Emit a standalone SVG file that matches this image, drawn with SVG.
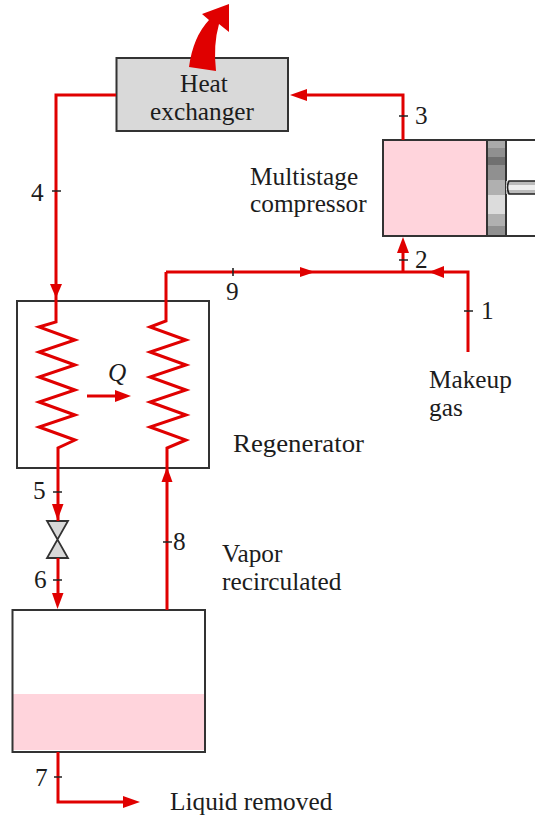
<svg xmlns="http://www.w3.org/2000/svg" width="535" height="816" viewBox="0 0 535 816">
<style>
text{font-family:"Liberation Serif","Times New Roman",serif;font-size:25.300px;fill:#1c1c1c}
.m{text-anchor:middle}
.box{fill:none;stroke:#333;stroke-width:2}
.pipe{fill:none;stroke:#e00000;stroke-width:3;stroke-linejoin:miter}
.tick{fill:none;stroke:#222;stroke-width:1.6}
.head{fill:#e00000}
</style>
<rect width="535" height="816" fill="#fff"/>
<g id="heat-exchanger">
<rect x="116.500" y="58" width="171.500" height="73" fill="#d9d9d9" stroke="#333" stroke-width="2"/>
<text class="m" x="204" y="92">Heat</text>
<text class="m" x="202" y="120">exchanger</text>
</g>
<g id="compressor">
<rect x="383" y="140" width="104" height="95" fill="#ffd4dc"/>
<rect x="487" y="141" width="19" height="7" fill="#aaa"/>
<rect x="487" y="148" width="19" height="9" fill="#909090"/>
<rect x="487" y="157" width="19" height="8" fill="#707070"/>
<rect x="487" y="165" width="19" height="15" fill="#909090"/>
<rect x="487" y="180" width="19" height="15" fill="#b0b0b0"/>
<rect x="487" y="195" width="19" height="19" fill="#dcdcdc"/>
<rect x="487" y="214" width="19" height="12" fill="#b0b0b0"/>
<rect x="487" y="226" width="19" height="10" fill="#909090"/>
<path d="M535 140H383V236H535M487 140V236M506 140V236" class="box"/>
<rect x="506" y="181" width="29" height="4" fill="#bbb"/>
<rect x="506" y="185" width="29" height="5" fill="#eee"/>
<rect x="506" y="190" width="29" height="4" fill="#bbb"/>
<path d="M535 181H509Q506 187 509 194H535" fill="none" stroke="#222" stroke-width="1.600"/>
<text x="250" y="185">Multistage</text>
<text x="250" y="212">compressor</text>
</g>
<g id="regenerator">
<rect x="17" y="301" width="192" height="167" class="box"/>
<text x="233" y="452" textLength="131" lengthAdjust="spacingAndGlyphs">Regenerator</text>
<text x="108" y="381" style="font-style:italic">Q</text>
</g>
<g id="valve">
<path d="M47 521H68L47 558H68Z" fill="#d9d9d9" stroke="#333" stroke-width="1.800" stroke-linejoin="miter"/>
</g>
<g id="separator">
<rect x="13" y="694" width="192" height="56" fill="#ffd4dc"/>
<rect x="12.500" y="610" width="192.500" height="142" class="box"/>
</g>
<g id="heat-rejected">
<path class="head" d="M189 67Q193 37 209 20L202 14L229 4V32L219 24Q213 45 216 71Z"/>
</g>
<g id="connectors">
<path class="pipe" d="M116 95H56V322L39 327L75 340L39 352L75 365L39 377L75 390L39 402L75 415L39 427L75 440L58 448V521"/>
<path class="pipe" d="M58 558V600"/>
<path class="pipe" d="M166 272V321L150 327L186 340L150 352L186 365L150 377L186 390L150 402L186 415L150 427L186 440L167 448V610"/>
<path class="pipe" d="M166 272H468V352"/>
<path class="pipe" d="M403 272V245"/>
<path class="pipe" d="M403 140V95H300"/>
<path class="pipe" d="M87 396H118"/>
<path class="pipe" d="M58 752V802H125"/>
<path class="head" d="M50 284H62L56 298Z"/>
<path class="head" d="M52 504H63.500L57.500 520Z"/>
<path class="head" d="M52 593H63.500L57.500 609Z"/>
<path class="head" d="M161.500 482H172.500L167 467Z"/>
<path class="head" d="M300 267V277L315 272Z"/>
<path class="head" d="M444 266V278L429 272Z"/>
<path class="head" d="M397 253H409L403 237Z"/>
<path class="head" d="M307 89V101L290 95Z"/>
<path class="head" d="M115 390V402L131 396Z"/>
<path class="head" d="M123 796V808L140 802Z"/>
<path class="tick" d="M52 191H61M53 492H62M53 580H62M163 542H172M233 268V276M399 260H408M464 311H473M399 116H408M54 777H62"/>
<text x="31" y="201">4</text>
<text x="415" y="124">3</text>
<text x="415" y="268">2</text>
<text x="481" y="319">1</text>
<text x="226" y="300">9</text>
<text x="33" y="499">5</text>
<text x="34" y="588">6</text>
<text x="173" y="550">8</text>
<text x="35" y="786">7</text>
<text x="429" y="388">Makeup</text>
<text x="429" y="416">gas</text>
<text x="222" y="562">Vapor</text>
<text x="222" y="590">recirculated</text>
<text x="170" y="810">Liquid removed</text>
</g>
</svg>
